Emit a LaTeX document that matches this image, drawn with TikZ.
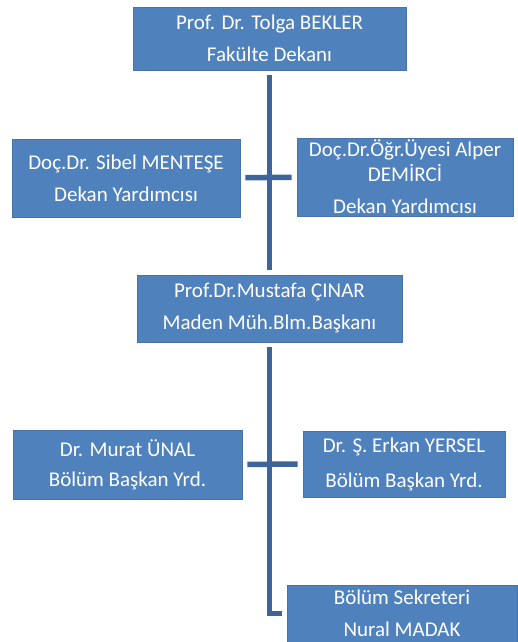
\documentclass[tikz,border=0pt]{standalone}
\usepackage{fontspec}
\setmainfont{Carlito}
\usetikzlibrary{calc,positioning}

\definecolor{boxblue}{RGB}{79,129,189}
\definecolor{boxedge}{RGB}{70,115,170}
\definecolor{linkblue}{RGB}{62,101,153}

\begin{document}
\begin{tikzpicture}[
    x=1pt,y=-1pt,
    person/.style={rectangle,fill=boxblue,draw=boxedge,line width=.6pt,text=white,
      align=center,inner sep=0pt,font=\fontsize{21}{25}\selectfont},
    link/.style={draw=linkblue,line width=5.5pt,shorten <=5pt,shorten >=5pt}
    ]

    \useasboundingbox (0,0) rectangle (518,642);

    \node (dean) [person,minimum width=273,minimum height=63] at (269.5,38.5)
      {Prof. Dr. Tolga BEKLER\\[7pt]Fakülte Dekanı};
    \node (sibel) [person,minimum width=228,minimum height=78] at (126,178)
      {Doç.Dr. Sibel MENTEŞE\\[7pt]Dekan Yardımcısı};
    \node (alper) [person,minimum width=216,minimum height=78] at (405,177)
      {Doç.Dr.Öğr.Üyesi Alper\\DEMİRCİ\\[7pt]Dekan Yardımcısı};
    \node (head) [person,minimum width=265,minimum height=67] at (269.5,308.5)
      {Prof.Dr.Mustafa ÇINAR\\[7pt]Maden Müh.Blm.Başkanı};
    \node (murat) [person,minimum width=229,minimum height=69] at (127.5,464.5)
      {Dr. Murat ÜNAL\\[5pt]Bölüm Başkan Yrd.};
    \node (ersel) [person,minimum width=202,minimum height=66] at (404,464)
      {Dr. Ş. Erkan YERSEL\\[10pt]Bölüm Başkan Yrd.};
    \node (sec) [person,minimum width=230,minimum height=57] at (402,613.5)
      {Bölüm Sekreteri\\[7pt]Nural MADAK};

    \draw[link] (dean) -- (head);
    \draw[link] (sibel) -- (alper);
    \draw[link] (murat) -- (ersel);
    \draw[link] (head.south) |- (sec.west);

\end{tikzpicture}
\end{document}
